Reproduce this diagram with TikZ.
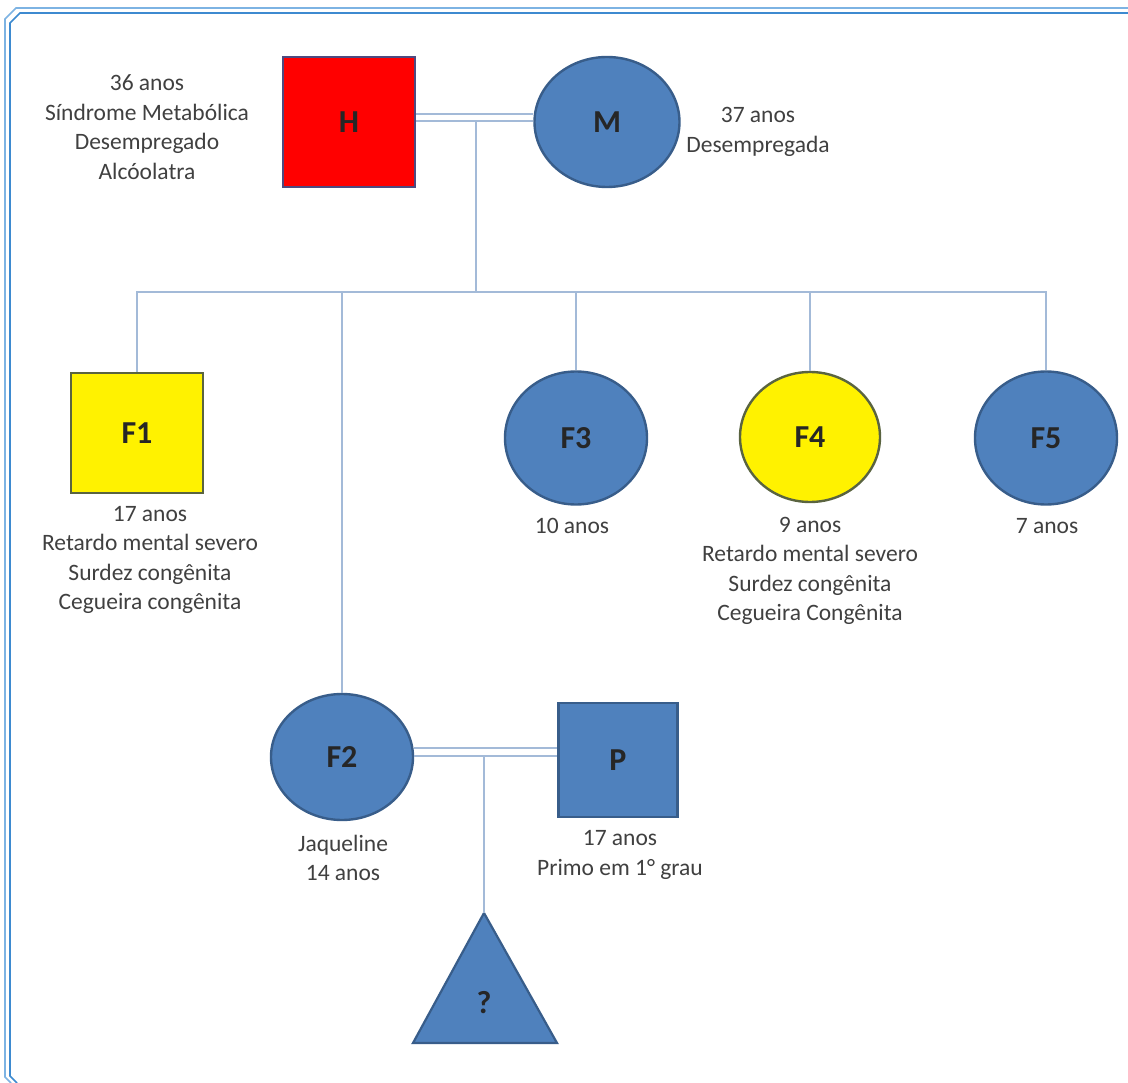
\documentclass[tikz,border=0pt]{standalone}
\usepackage{fontspec}
\setmainfont{Carlito}
\usetikzlibrary{shapes.geometric}
\definecolor{fillblue}{HTML}{4F81BD}
\definecolor{edgeblue}{HTML}{385D8A}
\definecolor{edgeolive}{HTML}{5A6440}
\definecolor{edgered}{HTML}{4E4A80}
\definecolor{linkblue}{HTML}{A3BAD8}
\definecolor{frameA}{HTML}{7DB3E3}
\definecolor{frameB}{HTML}{3D8AD0}
\begin{document}
\begin{tikzpicture}[x=1pt,y=-1pt,
  person/.style={draw=edgeblue, line width=2.4pt, inner sep=0pt,
    font=\fontsize{32}{34}\selectfont\bfseries, text=black!85},
  sq/.style={person, rectangle},
  circ/.style={person, ellipse, fill=fillblue},
  note/.style={align=center, font=\fontsize{23.5}{29.5}\selectfont, text=black!75, inner sep=0pt},
  conn/.style={draw=linkblue, line width=2pt},
  mar/.style={draw=linkblue, line width=1.6pt},
  frameline/.style={line width=1.6pt}
]
\useasboundingbox (0,0) rectangle (1128,1083);
\fill[white] (0,0) rectangle (1128,1083);

% frame
\draw[frameline, frameA] (1128,8) -- (16,8) -- (5,19) -- (5,1077) -- (11,1083);
\draw[frameline, frameB] (1128,13) -- (20,13) -- (10,23) -- (10,1076) -- (17,1083);

% persons
\node[sq, fill=red, draw=edgered, minimum width=132pt, minimum height=130pt] (H) at (349,122) {H};
\node[circ, minimum width=145pt, minimum height=130pt] (M) at (607,122) {M};
\node[sq, fill=yellow, draw=edgeolive, minimum width=132pt, minimum height=120pt] (F1) at (137,433) {F1};
\node[circ, minimum width=142pt, minimum height=133pt] (F3) at (576,438) {F3};
\node[circ, fill=yellow, draw=edgeolive, minimum width=140pt, minimum height=130pt] (F4) at (810,437) {F4};
\node[circ, minimum width=142pt, minimum height=133pt] (F5) at (1046,438) {F5};
\node[circ, minimum width=142pt, minimum height=126pt] (F2) at (342,757) {F2};
\node[sq, fill=fillblue, minimum width=119pt, minimum height=114pt] (P) at (618,760) {P};

% unborn child
\coordinate (qtop) at (484,913);
\filldraw[fill=fillblue, draw=edgeblue, line width=2.2pt] (qtop) -- (557,1043) -- (413,1043) -- cycle;
\node[person, draw=none] (Q) at (484,1003) {?};

% connectors
\draw[mar] ([yshift=8pt]H.east) -- ([yshift=8pt]H.east -| M.west);
\draw[mar] ([yshift=1pt]H.east) -- ([yshift=1pt]H.east -| M.west);
\coordinate (hm) at (476,121);
\coordinate (sib) at (476,292);
\draw[conn] (hm) -- (sib);
\draw[conn] (F1.north) -- (F1.north |- sib) -- (F5.north |- sib) -- (F5.north);
\draw[conn] (F2.north) -- (F2.north |- sib);
\draw[conn] (F3.north) -- (F3.north |- sib);
\draw[conn] (F4.north) -- (F4.north |- sib);

\draw[mar] (F2.east |- 0,748) -- (P.west |- 0,748);
\draw[mar] (F2.east |- 0,756) -- (P.west |- 0,756);
\coordinate (fp) at (484,756);
\draw[conn] (fp) -- (qtop);

% notes
\node[note] (tH) at (147,127) {36 anos\\Síndrome Metabólica\\Desempregado\\Alcóolatra};
\node[note] (tM) at (758,132) {37 anos\\Desempregada};
\node[note] (tF1) at (150,560) {17 anos\\Retardo mental severo\\Surdez congênita\\Cegueira congênita};
\node[note] (tF3) at (572,526) {10 anos};
\node[note] (tF4) at (810,571) {9 anos\\Retardo mental severo\\Surdez congênita\\Cegueira Congênita};
\node[note] (tF5) at (1047,526) {7 anos};
\node[note] (tF2) at (343,858) {Jaqueline\\14 anos};
\node[note] (tP) at (620,855) {17 anos\\Primo em 1° grau};
\end{tikzpicture}
\end{document}
